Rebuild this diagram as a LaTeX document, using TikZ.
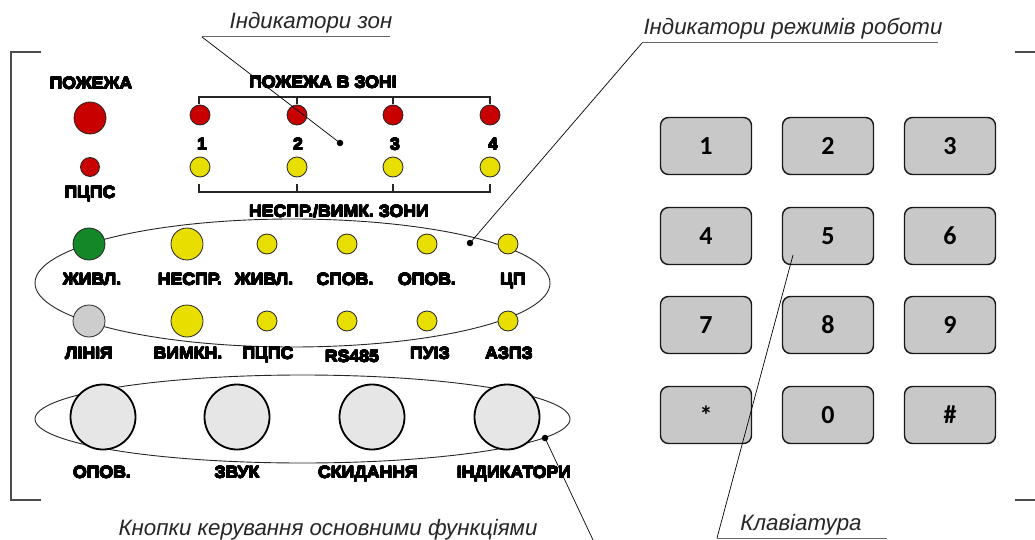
\documentclass[tikz,border=0pt]{standalone}
\usepackage{fontspec}
\usepackage{contour}
\contourlength{0.3pt}
\contournumber{16}
\setmainfont{Liberation Sans}
\newfontfamily\keyfont{Carlito}
\newfontfamily\lblfont[FakeStretch=1.07]{Liberation Sans Bold}
\usetikzlibrary{shapes.geometric}
\definecolor{ledred}{RGB}{200,0,0}
\definecolor{ledyellow}{RGB}{232,222,0}
\definecolor{ledgreen}{RGB}{20,135,40}
\definecolor{ledgrey}{RGB}{205,205,205}
\definecolor{btngrey}{RGB}{230,230,230}
\definecolor{keygrey}{RGB}{200,200,200}
\newcommand{\heavy}[1]{\contour{black}{#1}}
\begin{document}
\begin{tikzpicture}[x=1pt,y=-1pt,
  lbl/.style={font=\lblfont\fontsize{16.5}{16.5}\selectfont, inner sep=0, anchor=base},
  ann/.style={font=\fontsize{22.3}{22.3}\selectfont\itshape, text=black!85, inner sep=0, anchor=base},
  led/.style={circle, draw=black!85, line width=0.8pt, inner sep=0, minimum size=20pt},
  bigled/.style={led, minimum size=32pt},
  smallled/.style={led, minimum size=20pt},
  btn/.style={circle, draw=black, line width=1.8pt, fill=btngrey, inner sep=0, minimum size=65pt},
  keybox/.style={rectangle, rounded corners=8pt, draw=black!90, line width=1.4pt, fill=keygrey,
     minimum width=91pt, minimum height=57pt, inner sep=0, font=\keyfont\bfseries\fontsize{26}{26}\selectfont},
  group/.style={ellipse, draw=black!85, line width=0.9pt, inner sep=0},
  bracket/.style={draw=black!85, line width=2.2pt},
  frame/.style={draw=black!70, line width=1.2pt},
  leader/.style={draw=black, line width=0.7pt},
  uline/.style={draw=black!60, line width=1pt},
  dot/.style={circle, fill=black, inner sep=0, minimum size=6.5pt}]
\useasboundingbox (0,0) rectangle (1035,540);
% frame
\draw[frame] (41,52) -- (11,52) -- (11,500) -- (41,500);
\draw[frame] (1015,52) -- (1035,52);
\draw[frame] (1015,500) -- (1035,500);

% left column
\node[lbl] (pozh) at (91,89) {\heavy{ПОЖЕЖА}};
\node[led, fill=ledred, minimum size=32pt] (pozhled) at (90,118) {};
\node[led, fill=ledred, minimum size=19pt] (pcpsled) at (90,167) {};
\node[lbl] (pcps) at (90,198) {\heavy{ПЦПС}};

% zone brackets
\draw[bracket] (199,104) -- (199,97) -- (490,97) -- (490,104);
\draw[bracket] (297,97) -- (297,104);
\draw[bracket] (393,97) -- (393,104);
\draw[bracket] (199,184) -- (199,192) -- (490,192) -- (490,184);
\draw[bracket] (297,192) -- (297,184);
\draw[bracket] (393,192) -- (393,184);
\node[lbl] (zonefire) at (323,88) {\heavy{ПОЖЕЖА В ЗОНІ}};
\node[lbl] (zonefault) at (339,217) {\heavy{НЕСПР./ВИМК. ЗОНИ}};
\foreach \i/\x/\nx in {1/200/202,2/297/298,3/393/395,4/490/493}{
  \node[led, fill=ledred] (zr\i) at (\x,115) {};
  \node[led, fill=ledyellow] (zy\i) at (\x,167) {};
  \node[lbl] (zn\i) at (\nx,150) {\heavy{\i}};
}

% mode indicators
\node[group, minimum width=515pt, minimum height=128pt] (modes) at (292.5,283) {};
\node[bigled, fill=ledgreen] (m1) at (89,244) {};
\node[bigled, fill=ledyellow] (m2) at (187,244) {};
\node[smallled, fill=ledyellow] (m3) at (267,244) {};
\node[smallled, fill=ledyellow] (m4) at (347,244) {};
\node[smallled, fill=ledyellow] (m5) at (427,244) {};
\node[smallled, fill=ledyellow] (m6) at (508,244) {};
\node[bigled, fill=ledgrey] (n1) at (89,321) {};
\node[bigled, fill=ledyellow] (n2) at (187,321) {};
\node[smallled, fill=ledyellow] (n3) at (267,321) {};
\node[smallled, fill=ledyellow] (n4) at (347,321) {};
\node[smallled, fill=ledyellow] (n5) at (427,321) {};
\node[smallled, fill=ledyellow] (n6) at (508,321) {};
\node[lbl] (lm1) at (92,285) {\heavy{ЖИВЛ.}};
\node[lbl] (lm2) at (190,285) {\heavy{НЕСПР.}};
\node[lbl] (lm3) at (264,285) {\heavy{ЖИВЛ.}};
\node[lbl] (lm4) at (345,285) {\heavy{СПОВ.}};
\node[lbl] (lm5) at (427,285) {\heavy{ОПОВ.}};
\node[lbl] (lm6) at (513,285) {\heavy{ЦП}};
\node[lbl] (ln1) at (89,359) {\heavy{ЛІНІЯ}};
\node[lbl] (ln2) at (188,359) {\heavy{ВИМКН.}};
\node[lbl] (ln3) at (268,359) {\heavy{ПЦПС}};
\node[lbl] (ln4) at (352,362) {\heavy{RS485}};
\node[lbl] (ln5) at (430,359) {\heavy{ПУІЗ}};
\node[lbl] (ln6) at (509,359) {\heavy{АЗПЗ}};

% buttons
\node[group, minimum width=535pt, minimum height=88pt] (btns) at (302.5,419) {};
\node[btn] (b1) at (103,417) {};
\node[btn] (b2) at (237,417) {};
\node[btn] (b3) at (372,417) {};
\node[btn] (b4) at (507,417) {};
\node[lbl] (lb1) at (102,478) {\heavy{ОПОВ.}};
\node[lbl] (lb2) at (237,478) {\heavy{ЗВУК}};
\node[lbl] (lb3) at (368,478) {\heavy{СКИДАННЯ}};
\node[lbl] (lb4) at (514,478) {\heavy{ІНДИКАТОРИ}};

% keypad
\node[keybox] (k1) at (706,146) {1};
\node[keybox] (k2) at (828,146) {2};
\node[keybox] (k3) at (950,146) {3};
\node[keybox] (k4) at (706,236) {4};
\node[keybox] (k5) at (828,236) {5};
\node[keybox] (k6) at (950,236) {6};
\node[keybox] (k7) at (706,325) {7};
\node[keybox] (k8) at (828,325) {8};
\node[keybox] (k9) at (950,325) {9};
\node[keybox] (ks) at (706,415) {*};
\node[keybox] (k0) at (828,415) {0};
\node[keybox] (kh) at (950,415) {\#};

% annotations
\node[ann] (tzones) at (311,29) {Індикатори зон};
\coordinate (zl) at (202,37);
\coordinate (zr) at (390,37);
\draw[uline] (zl) -- (zr);
\node[dot] (zdot) at (340,143) {};
\draw[leader] (zl) -- (zdot.center);

\node[ann] (tmodes) at (793,35) {Індикатори режимів роботи};
\coordinate (ml) at (642,43);
\coordinate (mr) at (938,43);
\draw[uline] (ml) -- (mr);
\node[dot] (mdot) at (470,243) {};
\draw[leader] (ml) -- (mdot.center);

\node[ann] (tbtns) at (328,535) {Кнопки керування основними функціями};
\node[dot] (bdot) at (545,438) {};
\coordinate (bend) at (593,540);
\draw[leader] (bdot.center) -- (bend);

\node[ann] (tkeys) at (801,530) {Клавіатура};
\coordinate (kl) at (717,538);
\coordinate (kr) at (887,538);
\coordinate (k5p) at (793,255);
\draw[uline] (kl) -- (kr);
\draw[leader] (k5p) -- (kl);
\end{tikzpicture}
\end{document}
